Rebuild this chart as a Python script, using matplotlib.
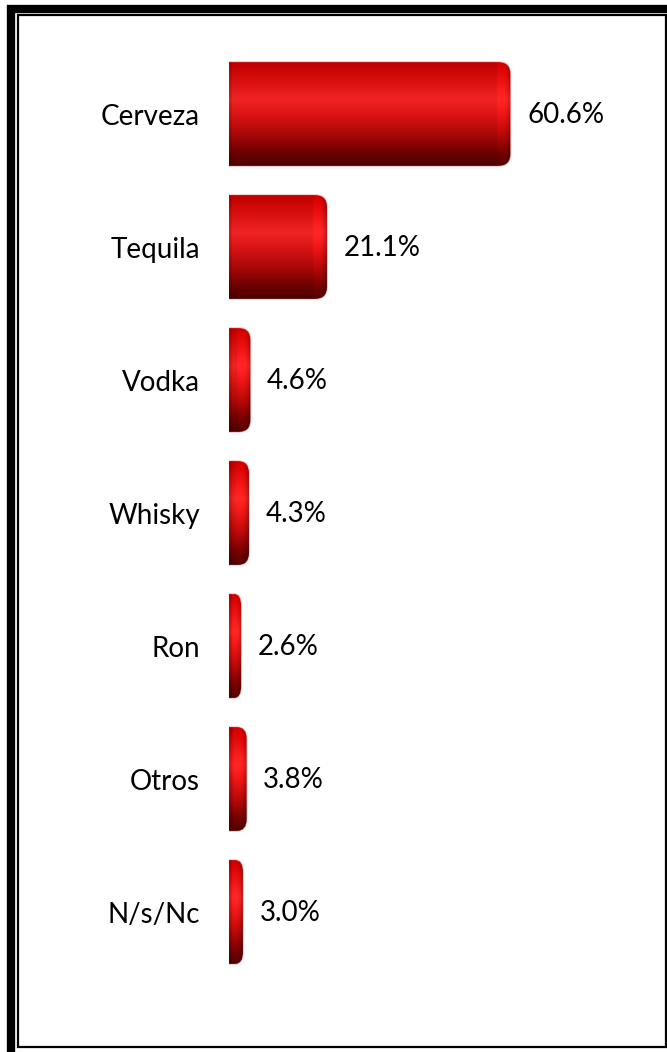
import matplotlib
matplotlib.use('Agg')
import numpy as np
import matplotlib.pyplot as plt
from matplotlib.path import Path
from matplotlib.patches import PathPatch, Rectangle

# Datos
categorias = ['Cerveza', 'Tequila', 'Vodka', 'Whisky', 'Ron', 'Otros', 'N/s/Nc']
porcentajes = [60.6, 21.1, 4.6, 4.3, 2.6, 3.8, 3.0]
etiquetas = [f'{p:.1f}%' for p in porcentajes]

W, H = 667, 1052
fig = plt.figure(figsize=(W / 100, H / 100), dpi=100)
fig.patch.set_facecolor('white')

# Marco doble (grueso por fuera, fino por dentro)
def rect_px(x0, y0, x1, y1, lw):
    return Rectangle((x0 / W, 1 - y1 / H), (x1 - x0) / W, (y1 - y0) / H,
                     transform=fig.transFigure, fill=False, edgecolor='black',
                     linewidth=lw, zorder=10)

fig.patches.append(rect_px(11, 9, 690, 1053.5, 6))
fig.patches.append(rect_px(17.5, 15, 665.5, 1046.5, 1.6))

# Ejes: 4.64 px por punto porcentual, 133 px entre barras
ax = fig.add_axes([229 / W, 1 - 978.5 / H, 325 / W, 931 / H])
ax.set_facecolor('none')

altura = 0.78
bars = ax.barh(range(len(categorias)), porcentajes, height=altura, color='none')

# Perfil vertical del cilindro
stops_t = [0.0, 0.08, 0.20, 0.36, 0.50, 0.70, 0.88, 1.0]
stops_c = np.array([
    [0.74, 0.00, 0.00],
    [0.80, 0.02, 0.02],
    [0.86, 0.07, 0.07],
    [0.94, 0.14, 0.14],
    [0.86, 0.08, 0.08],
    [0.66, 0.03, 0.03],
    [0.42, 0.00, 0.00],
    [0.30, 0.00, 0.00],
])
ny = 200
t = np.linspace(0, 1, ny)
vert = np.stack([np.interp(t, stops_t, stops_c[:, k]) for k in range(3)], axis=1)

px_x = 325 / 70.0
px_y = 931 / 7.0

for i, bar in enumerate(bars):
    x0, y0 = bar.get_x(), bar.get_y()
    w, h = bar.get_width(), bar.get_height()
    wpx = w * px_x
    rpx = min(12.0, wpx * 0.55)
    rx = rpx / px_x
    ry = 12.0 / px_y
    x1 = x0 + w
    verts = [(x0, y0), (x1 - rx, y0), (x1, y0), (x1, y0 + ry),
             (x1, y0 + h - ry), (x1, y0 + h), (x1 - rx, y0 + h),
             (x0, y0 + h), (x0, y0)]
    codes = [Path.MOVETO, Path.LINETO, Path.CURVE3, Path.CURVE3,
             Path.LINETO, Path.CURVE3, Path.CURVE3,
             Path.LINETO, Path.CLOSEPOLY]
    path = Path(verts, codes)
    halo = PathPatch(path, facecolor='none', edgecolor='#f2b8b8', linewidth=1.2, zorder=1)
    ax.add_patch(halo)
    clip = PathPatch(path, facecolor='none', edgecolor='none')
    ax.add_patch(clip)

    nx = max(int(wpx * 2), 6)
    xp = np.linspace(0, wpx, nx)
    d = wpx - xp  # distancia al extremo derecho en px
    horiz = np.ones(nx)
    cap = min(14.0, wpx * 0.9)
    m = d < cap
    s = d[m] / cap
    horiz[m] = 0.72 + 0.40 * np.sin(np.pi * np.clip(s, 0, 1) * 0.75) ** 0.6
    horiz = np.minimum(horiz, 1.10)
    horiz[xp < 3] *= 0.88
    img = np.clip(vert[:, None, :] * horiz[None, :, None], 0, 1)
    im = ax.imshow(img, extent=(x0, x1, y0 + h, y0), aspect='auto',
                   interpolation='bilinear', zorder=2)
    im.set_clip_path(clip)

    ax.annotate(etiquetas[i], xy=(x1, y0 + h / 2), xytext=(12, -1),
                textcoords='offset points', va='center', ha='left',
                fontsize=20, fontfamily='Lato', color='black')

ax.set_xlim(0, 70)
ax.set_ylim(len(categorias) - 0.5, -0.5)
ax.set_yticks(range(len(categorias)))
ax.set_yticklabels(categorias, fontsize=20, fontfamily='Lato')
ax.tick_params(axis='y', length=0, pad=21)
ax.set_xticks([])
for sp in ax.spines.values():
    sp.set_visible(False)

fig.savefig('out.png', dpi=100)
